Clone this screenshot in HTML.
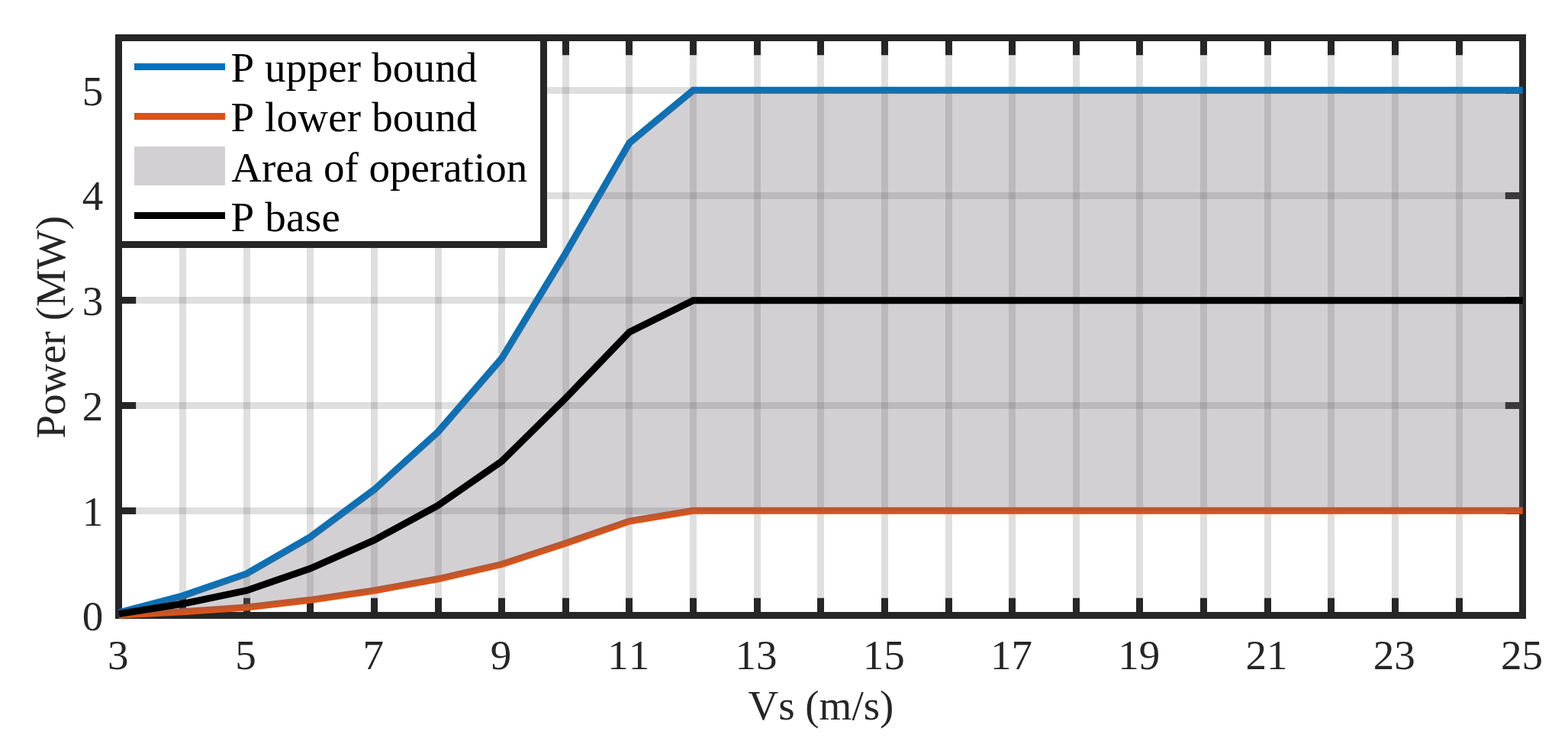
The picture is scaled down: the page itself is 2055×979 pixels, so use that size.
<!DOCTYPE html>
<html><head><meta charset="utf-8"><style>
html,body{margin:0;padding:0;background:#fff;}
body{width:2055px;height:979px;overflow:hidden;}
svg{display:block;} text{font-kerning:none;}
</style></head><body>
<svg width="2055" height="979" viewBox="0 0 2055 979">
<rect width="2055" height="979" fill="#fff"/>
<path d="M239.5 49.5V806.5M323.5 49.5V806.5M406.5 49.5V806.5M490.5 49.5V806.5M574.5 49.5V806.5M657.5 49.5V806.5M741.5 49.5V806.5M824.5 49.5V806.5M908.5 49.5V806.5M992.5 49.5V806.5M1075.5 49.5V806.5M1159.5 49.5V806.5M1243.5 49.5V806.5M1326.5 49.5V806.5M1410.5 49.5V806.5M1493.5 49.5V806.5M1577.5 49.5V806.5M1661.5 49.5V806.5M1744.5 49.5V806.5M1828.5 49.5V806.5M1912.5 49.5V806.5" stroke="#262626" stroke-opacity="0.15" stroke-width="9" fill="none"/>
<path d="M155.5 669.5H1995.5M155.5 531.5H1995.5M155.5 393.5H1995.5M155.5 256.5H1995.5M155.5 118.5H1995.5" stroke="#262626" stroke-opacity="0.15" stroke-width="9" fill="none"/>
<path d="M155.5 49.5H1995.5V806.5H155.5Z" fill="none" stroke="#262626" stroke-width="9"/>
<path d="M155.5 806.5V783.8M155.5 49.5V72.2M239.5 806.5V783.8M239.5 49.5V72.2M323.5 806.5V783.8M323.5 49.5V72.2M406.5 806.5V783.8M406.5 49.5V72.2M490.5 806.5V783.8M490.5 49.5V72.2M574.5 806.5V783.8M574.5 49.5V72.2M657.5 806.5V783.8M657.5 49.5V72.2M741.5 806.5V783.8M741.5 49.5V72.2M824.5 806.5V783.8M824.5 49.5V72.2M908.5 806.5V783.8M908.5 49.5V72.2M992.5 806.5V783.8M992.5 49.5V72.2M1075.5 806.5V783.8M1075.5 49.5V72.2M1159.5 806.5V783.8M1159.5 49.5V72.2M1243.5 806.5V783.8M1243.5 49.5V72.2M1326.5 806.5V783.8M1326.5 49.5V72.2M1410.5 806.5V783.8M1410.5 49.5V72.2M1493.5 806.5V783.8M1493.5 49.5V72.2M1577.5 806.5V783.8M1577.5 49.5V72.2M1661.5 806.5V783.8M1661.5 49.5V72.2M1744.5 806.5V783.8M1744.5 49.5V72.2M1828.5 806.5V783.8M1828.5 49.5V72.2M1912.5 806.5V783.8M1912.5 49.5V72.2M1995.5 806.5V783.8M1995.5 49.5V72.2M155.5 806.5H178.2M1995.5 806.5H1972.8M155.5 669.5H178.2M1995.5 669.5H1972.8M155.5 531.5H178.2M1995.5 531.5H1972.8M155.5 393.5H178.2M1995.5 393.5H1972.8M155.5 256.5H178.2M1995.5 256.5H1972.8M155.5 118.5H178.2M1995.5 118.5H1972.8" stroke="#262626" stroke-width="9" fill="none"/>
<g fill="none" stroke-width="9" stroke-linejoin="miter">
<polyline points="155.90,802.87 239.53,780.83 323.15,751.91 406.78,703.70 490.41,641.73 574.04,565.98 657.66,469.57 741.29,331.84 824.92,187.23 908.55,118.36 1995.70,118.36" stroke="#0072BD"/>
<polyline points="155.90,806.17 239.53,801.77 323.15,795.98 406.78,786.34 490.41,773.95 574.04,758.80 657.66,739.51 741.29,711.97 824.92,683.05 908.55,669.27 1995.70,669.27" stroke="#D95319"/>
<polygon points="155.90,802.87 239.53,780.83 323.15,751.91 406.78,703.70 490.41,641.73 574.04,565.98 657.66,469.57 741.29,331.84 824.92,187.23 908.55,118.36 1995.70,118.36 1995.70,669.27 908.55,669.27 824.92,683.05 741.29,711.97 657.66,739.51 574.04,758.80 490.41,773.95 406.78,786.34 323.15,795.98 239.53,801.77 155.90,806.17" fill="#6c626c" fill-opacity="0.3" stroke="none"/>
<polyline points="155.90,804.52 239.53,791.30 323.15,773.95 406.78,745.02 490.41,707.84 574.04,662.39 657.66,604.54 741.29,521.90 824.92,435.14 908.55,393.82 1995.70,393.82" stroke="#000"/>
</g>
<g font-family="'Liberation Serif','Times New Roman',serif" font-size="55" fill="#262626">
<text x="154.70" y="877.3" text-anchor="middle">3</text><text x="321.95" y="877.3" text-anchor="middle">5</text><text x="489.21" y="877.3" text-anchor="middle">7</text><text x="656.46" y="877.3" text-anchor="middle">9</text><text x="823.72" y="877.3" text-anchor="middle">11</text><text x="990.97" y="877.3" text-anchor="middle">13</text><text x="1158.23" y="877.3" text-anchor="middle">15</text><text x="1325.48" y="877.3" text-anchor="middle">17</text><text x="1492.74" y="877.3" text-anchor="middle">19</text><text x="1659.99" y="877.3" text-anchor="middle">21</text><text x="1827.25" y="877.3" text-anchor="middle">23</text><text x="1994.50" y="877.3" text-anchor="middle">25</text>
<text x="135.2" y="826.40" text-anchor="end">0</text><text x="135.2" y="688.67" text-anchor="end">1</text><text x="135.2" y="550.95" text-anchor="end">2</text><text x="135.2" y="413.22" text-anchor="end">3</text><text x="135.2" y="275.49" text-anchor="end">4</text><text x="135.2" y="137.76" text-anchor="end">5</text>
<text x="1075.9" y="943.2" text-anchor="middle">Vs (m/s)</text>
<text transform="translate(85.1,428.8) rotate(-90)" text-anchor="middle">Power (MW)</text>
</g>
<rect x="155.5" y="49.5" width="557" height="271" fill="#fff" stroke="#262626" stroke-width="9"/>
<path d="M176 87.5H295" stroke="#0072BD" stroke-width="9"/>
<path d="M176 152.5H295" stroke="#D95319" stroke-width="9"/>
<rect x="176" y="192" width="119" height="51" fill="#6c626c" fill-opacity="0.3"/>
<path d="M176 282.5H295" stroke="#000" stroke-width="9"/>
<g font-family="'Liberation Serif','Times New Roman',serif" font-size="55" fill="#000">
<text x="302.4" y="107" letter-spacing="0.18">P upper bound</text>
<text x="302.4" y="172.3" letter-spacing="0.18">P lower bound</text>
<text x="303.3" y="238">Area of operation</text>
<text x="302.4" y="302.9" letter-spacing="0.28">P base</text>
</g>
</svg>
</body></html>
